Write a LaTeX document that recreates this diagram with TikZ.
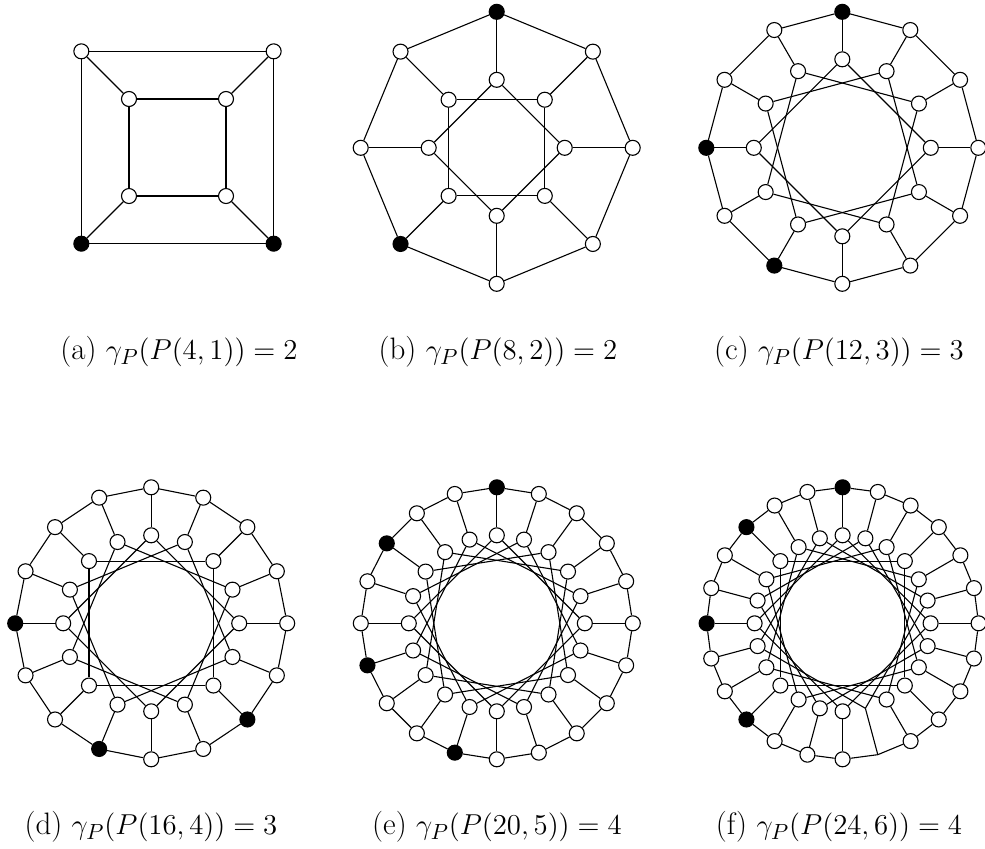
\documentclass[tikz,border=0pt]{standalone}
\usetikzlibrary{backgrounds}
\tikzset{
  vtx/.style={circle,draw,fill=white,minimum size=7.5pt,inner sep=0pt,line width=0.55pt},
  blk/.style={vtx,fill=black},
  gline/.style={line width=0.55pt},
  captext/.style={font=\fontsize{15.5}{18}\selectfont, inner sep=0pt},
}
% #1 name, #2 cx, #3 cy, #4 n, #5 k, #6 start angle, #7 inner radius, #8 black list, #9 missing list
\newcommand\pgraph[9]{%
  \begin{scope}[shift={(#2,#3)}]
    \pgfmathtruncatemacro\nlast{#4-1}
    \foreach \i in {0,...,\nlast}{
      \pgfmathsetmacro\ang{#6+\i*360/#4}
      \gdef\vst{vtx}
      \foreach \b in {#8}{\ifnum\b=\i\relax\gdef\vst{blk}\fi}
      \gdef\miss{0}
      \foreach \b in {#9}{\ifnum\b=\i\relax\gdef\miss{1}\fi}
      \ifnum\miss=1\relax
        \coordinate (#1o\i) at ({136*cos(\ang)},{-136*sin(\ang)});
        \coordinate (#1i\i) at ({#7*cos(\ang)},{-#7*sin(\ang)});
      \else
        \node[\vst] (#1o\i) at ({136*cos(\ang)},{-136*sin(\ang)}) {};
        \node[vtx] (#1i\i) at ({#7*cos(\ang)},{-#7*sin(\ang)}) {};
      \fi
    }
    \begin{scope}[on background layer]
      \foreach \i in {0,...,\nlast}{
        \pgfmathtruncatemacro\j{mod(\i+1,#4)}
        \pgfmathtruncatemacro\m{mod(\i+#5,#4)}
        \draw[gline] (#1o\i) -- (#1o\j);
        \draw[gline] (#1o\i) -- (#1i\i);
        \draw[gline] (#1i\i) -- (#1i\m);
      }
    \end{scope}
  \end{scope}
}
\begin{document}
\begin{tikzpicture}[x=0.5pt,y=-0.5pt]
  \useasboundingbox (0,0) rectangle (985,848);
  \pgraph{a}{177.5}{147.5}{4}{1}{45}{68.6}{2,3}{-1}
  \pgraph{b}{496.7}{147.8}{8}{2}{90}{68}{0,3}{-1}
  \pgraph{c}{842.3}{147.8}{12}{3}{90}{88.5}{0,3,5}{-1}
  \pgraph{d}{151.2}{623.3}{16}{4}{90}{88}{4,7,10}{-1}
  \pgraph{e}{496.8}{623.3}{20}{5}{90}{88}{0,3,6,9}{-1}
  \pgraph{f}{842.6}{623.3}{24}{6}{90}{88}{0,3,6,9}{13}
  \node[captext] (capa) at (179,352) {(a) $\gamma_P(P(4,1)) = 2$};
  \node[captext] (capb) at (498,352) {(b) $\gamma_P(P(8,2)) = 2$};
  \node[captext] (capc) at (839,352) {(c) $\gamma_P(P(12,3)) = 3$};
  \node[captext] (capd) at (151,827) {(d) $\gamma_P(P(16,4)) = 3$};
  \node[captext] (cape) at (497,827) {(e) $\gamma_P(P(20,5)) = 4$};
  \node[captext] (capf) at (839,827) {(f) $\gamma_P(P(24,6)) = 4$};
\end{tikzpicture}
\end{document}
